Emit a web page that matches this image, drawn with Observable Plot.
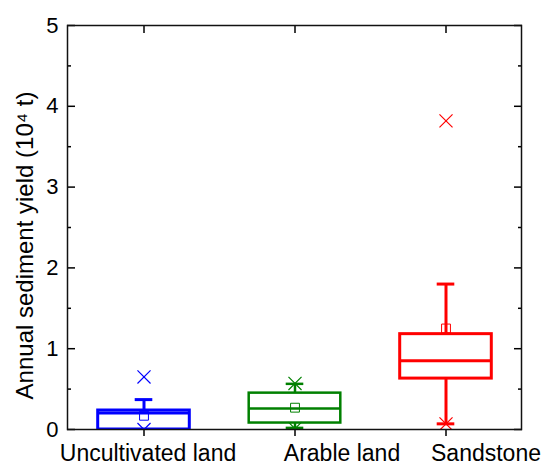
<!DOCTYPE html>
<html>
<head>
<meta charset="utf-8">
<script src="https://cdn.jsdelivr.net/npm/d3@7"></script>
<script src="https://cdn.jsdelivr.net/npm/@observablehq/plot@0.6"></script>
<style>
  html, body { margin: 0; padding: 0; background: #fff; }
</style>
</head>
<body>
<div id="chart"></div>
<script>
const categories = ["Uncultivated land", "Arable land", "Sandstone"];
const colors = ["#0000ff", "#008000", "#ff0000"];
const q1 = [0.0, 0.08, 0.63];
const median = [0.205, 0.26, 0.85];
const q3 = [0.235, 0.45, 1.18];
const whiskerLow = [0.0, 0.02, 0.07];
const whiskerHigh = [0.37, 0.565, 1.80];
const mean = [0.17, 0.27, 1.25];
const minVal = [0.0, 0.01, 0.07];
const maxVal = [0.65, 0.57, 3.82];
const yMajorTicks = [0, 1, 2, 3, 4, 5];
const yMinorTicks = [0.5, 1.5, 2.5, 3.5, 4.5];
const yLabel = "Annual sediment yield (10\u2074 t)";
const labelShift = [4, 47, 40];

const data = categories.map((c, i) => ({
  cat: c, color: colors[i], q1: q1[i], median: median[i], q3: q3[i],
  lo: whiskerLow[i], hi: whiskerHigh[i], mean: mean[i], min: minVal[i], max: maxVal[i],
  sw: i === 1 ? 2.5 : 3
}));

const boxInset = 29.7;
const capInset = 66.7;

const chart = Plot.plot({
  width: 544,
  height: 467,
  marginLeft: 67,
  marginRight: 23,
  marginTop: 25,
  marginBottom: 38,
  style: { fontFamily: "'Liberation Sans', Arial, sans-serif", background: "#fff", color: "#000" },
  x: { domain: categories, padding: 0 },
  y: { domain: [0, 5] },
  color: { type: "identity" },
  marks: [
    // whiskers
    Plot.ruleX(data, { x: "cat", y1: "q3", y2: "hi", stroke: "color", strokeWidth: "sw", clip: true }),
    Plot.ruleX(data, { x: "cat", y1: "lo", y2: "q1", stroke: "color", strokeWidth: "sw", clip: true }),
    Plot.tickY(data, { x: "cat", y: "hi", stroke: "color", strokeWidth: "sw", insetLeft: capInset, insetRight: capInset, clip: true }),
    Plot.tickY(data, { x: "cat", y: "lo", stroke: "color", strokeWidth: "sw", insetLeft: capInset, insetRight: capInset, clip: true }),
    // box
    Plot.barY(data, { x: "cat", y1: "q1", y2: "q3", fill: "none", stroke: "color", strokeWidth: "sw", insetLeft: boxInset, insetRight: boxInset, clip: true }),
    Plot.tickY(data, { x: "cat", y: "median", stroke: "color", strokeWidth: "sw", insetLeft: boxInset, insetRight: boxInset, clip: true }),
    // mean
    Plot.dot(data, { x: "cat", y: "mean", symbol: "square", r: 5, fill: "none", stroke: "color", strokeWidth: 1, clip: true }),
    // min / max
    Plot.dot(data, { x: "cat", y: "max", symbol: "times", r: 6, stroke: "color", strokeWidth: 1.2, clip: true }),
    Plot.dot(data, { x: "cat", y: "min", symbol: "times", r: 6, stroke: "color", strokeWidth: 1.2, clip: true }),
    // axes
    Plot.axisY({ anchor: "left", ticks: yMajorTicks, tickSize: 0, tickPadding: 9, fontSize: 22, label: null, tickFormat: d3.format("d") }),
    Plot.axisY({ anchor: "left", ticks: yMajorTicks, tickSize: -8, tickFormat: () => "", label: null, strokeWidth: 1.5 }),
    Plot.axisY({ anchor: "left", ticks: yMinorTicks, tickSize: -4, tickFormat: () => "", label: null, strokeWidth: 1.5 }),
    Plot.axisY({ anchor: "right", ticks: yMajorTicks, tickSize: -8, tickFormat: () => "", label: null, strokeWidth: 1.5 }),
    Plot.axisY({ anchor: "right", ticks: yMinorTicks, tickSize: -4, tickFormat: () => "", label: null, strokeWidth: 1.5 }),
    Plot.axisX({ anchor: "bottom", tickSize: 7, tickFormat: () => "", label: null, strokeWidth: 1.5 }),
    ...categories.map((c, i) =>
      Plot.axisX({ anchor: "bottom", ticks: [c], tickSize: 0, tickPadding: 15, fontSize: 23, label: null, dx: labelShift[i] })
    ),
    Plot.axisX({ anchor: "top", tickSize: -7, tickFormat: () => "", label: null, strokeWidth: 1.5 }),
    Plot.text([yLabel], { frameAnchor: "left", textAnchor: "middle", rotate: -90, dx: -42, dy: 18, fontSize: 24, fill: "#000" }),
    Plot.frame({ stroke: "#111", strokeWidth: 1.5 })
  ]
});
document.getElementById("chart").appendChild(chart);
</script>
</body>
</html>
